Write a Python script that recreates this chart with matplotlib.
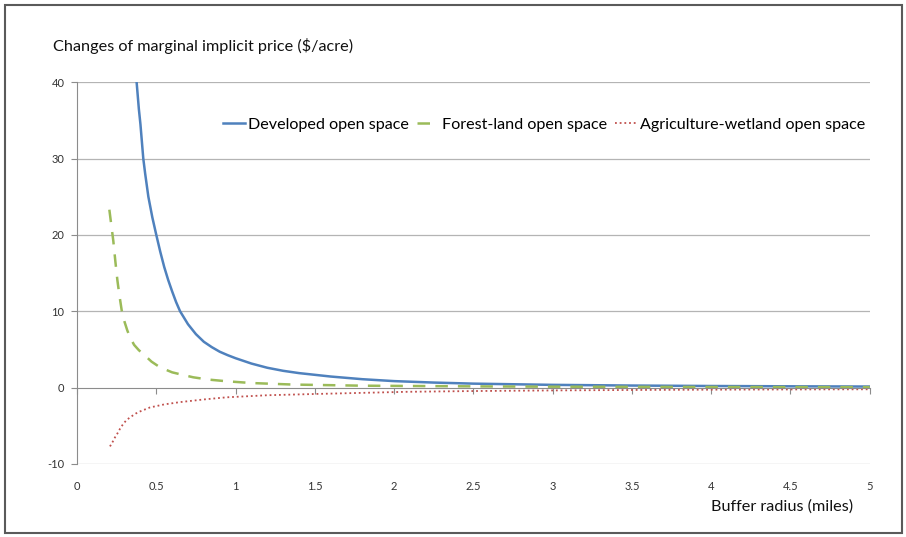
import matplotlib
matplotlib.use("Agg")
import matplotlib.pyplot as plt
from matplotlib.patches import Rectangle

plt.rcParams['font.family'] = ['Lato', 'DejaVu Sans']
plt.rcParams['axes.unicode_minus'] = False

# ==== DATA ====
x_dev = [0.376, 0.39, 0.40, 0.418, 0.43, 0.45, 0.475, 0.50, 0.525, 0.55, 0.575, 0.60,
         0.625, 0.65, 0.70, 0.75, 0.80, 0.85, 0.90, 0.95, 1.0, 1.1, 1.2, 1.3, 1.4,
         1.6, 1.8, 2.0, 2.25, 2.5, 3.0, 3.5, 4.0, 4.5, 5.0]
y_dev = [40, 36.5, 34.5, 30, 28, 25, 22.3, 20, 17.8, 15.8, 14.1, 12.6,
         11.2, 10, 8.3, 7.0, 6.0, 5.3, 4.7, 4.25, 3.85, 3.15, 2.6, 2.2, 1.9,
         1.45, 1.1, 0.85, 0.66, 0.52, 0.36, 0.27, 0.21, 0.17, 0.14]

x_for = [0.204, 0.215, 0.229, 0.242, 0.255, 0.268, 0.282, 0.30, 0.317, 0.334, 0.36,
         0.39, 0.418, 0.47, 0.523, 0.60, 0.66, 0.733, 0.83, 0.944, 1.1, 1.36,
         1.8, 2.5, 3.0, 3.5, 4.0, 4.5, 5.0]
y_for = [23.3, 21.5, 19.2, 16.5, 14.0, 12.0, 10.1, 8.6, 7.5, 6.6, 5.6,
         4.9, 4.4, 3.4, 2.66, 2.0, 1.7, 1.35, 1.05, 0.83, 0.6, 0.40,
         0.25, 0.16, 0.12, 0.10, 0.08, 0.07, 0.06]

x_agr = [0.208, 0.225, 0.24, 0.255, 0.271, 0.29, 0.31, 0.334, 0.37, 0.40, 0.46, 0.55,
         0.65, 0.80, 0.944, 1.2, 1.51, 2.08, 2.5, 3.0, 3.5, 4.0, 4.5, 5.0]
y_agr = [-7.7, -7.1, -6.5, -6.0, -5.4, -4.8, -4.3, -3.9, -3.4, -3.1, -2.6, -2.2,
         -1.9, -1.55, -1.27, -1.0, -0.83, -0.55, -0.45, -0.37, -0.31, -0.27, -0.24, -0.22]

labels = ['Developed open space', 'Forest-land open space', 'Agriculture-wetland open space']
x_ticks = [0, 0.5, 1, 1.5, 2, 2.5, 3, 3.5, 4, 4.5, 5]
x_tick_labels = ['0', '0.5', '1', '1.5', '2', '2.5', '3', '3.5', '4', '4.5', '5']
y_ticks = [-10, 0, 10, 20, 30, 40]

# ==== FIGURE ====
fig = plt.figure(figsize=(9.06, 5.37), dpi=100)
fig.patches.append(Rectangle((0.006, 0.008), 0.99, 0.983, transform=fig.transFigure,
                             fill=False, edgecolor='#5a5a5a', linewidth=1.5))

ax = fig.add_axes([0.085, 0.136, 0.875, 0.711])
ax.plot(x_dev, y_dev, color='#4F81BD', lw=1.8, label=labels[0])
ax.plot(x_for, y_for, color='#9BBB59', lw=1.8, dashes=(5, 4), label=labels[1])
ax.plot(x_agr, y_agr, color='#C0504D', lw=1.3, dashes=(1, 1.6), label=labels[2])

ax.set_xlim(0, 5)
ax.set_ylim(-10, 40)
ax.set_yticks(y_ticks)
for v in y_ticks:
    if v != 0:
        ax.axhline(v, color='#b4b4b4', lw=0.9, zorder=0)

for s in ['top', 'right']:
    ax.spines[s].set_visible(False)
ax.spines['left'].set_color('#8c8c8c')
ax.spines['bottom'].set_position(('data', 0))
ax.spines['bottom'].set_color('#8c8c8c')
ax.set_xticks(x_ticks)
ax.tick_params(axis='x', direction='out', length=4, color='#8c8c8c', labelbottom=False)
ax.tick_params(axis='y', direction='out', length=4, color='#8c8c8c', labelsize=8,
               labelcolor='#333333', pad=5)

sec = ax.secondary_xaxis(-0.0)
sec.set_xticks(x_ticks)
sec.set_xticklabels(x_tick_labels)
sec.tick_params(length=0, labelsize=8, labelcolor='#333333', pad=12)
sec.spines['bottom'].set_visible(False)

fig.text(0.058, 0.914, 'Changes of marginal implicit price ($/acre)', fontsize=11.7,
         ha='left', va='center', color='#111111')
fig.text(0.942, 0.057, 'Buffer radius (miles)', fontsize=11.7, ha='right', va='center',
         color='#111111')

ax.legend(loc='center right', bbox_to_anchor=(1.003, 0.888), ncol=3, frameon=False,
          fontsize=11.6, handlelength=1.4, handletextpad=0.2, columnspacing=0.45,
          borderaxespad=0)

fig.savefig('out.png', dpi=100)
